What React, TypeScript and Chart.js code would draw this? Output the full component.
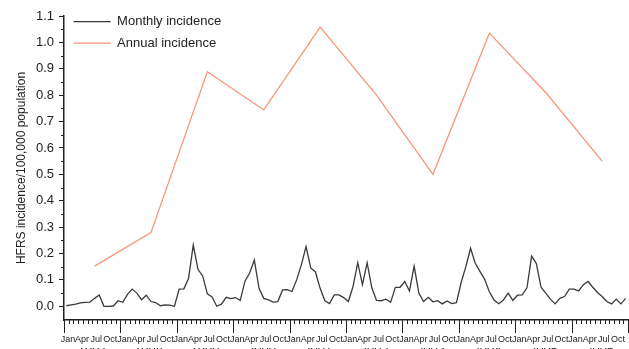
import React, { useEffect, useRef } from 'react';
import { Chart, registerables } from 'chart.js';

Chart.register(...registerables);

// ---- data ----
const YEARS = [1997, 1998, 1999, 2000, 2001, 2002, 2003, 2004, 2005, 2006];
const QUARTER_LABELS = ['Jan', 'Apr', 'Jul', 'Oct'];

const MONTHLY_1997 = [0.002, 0.005, 0.008, 0.013, 0.015, 0.016, 0.030, 0.043, 0.000, 0.000, 0.001, 0.021];
const MONTHLY_1998 = [0.015, 0.045, 0.065, 0.050, 0.025, 0.042, 0.018, 0.014, 0.002, 0.005, 0.004, 0.000];
const MONTHLY_1999 = [0.065, 0.066, 0.105, 0.232, 0.140, 0.115, 0.047, 0.035, 0.000, 0.008, 0.034, 0.029];
const MONTHLY_2000 = [0.033, 0.022, 0.095, 0.126, 0.175, 0.068, 0.030, 0.024, 0.016, 0.018, 0.062, 0.063];
const MONTHLY_2001 = [0.056, 0.100, 0.157, 0.226, 0.145, 0.130, 0.068, 0.021, 0.010, 0.043, 0.043, 0.033];
const MONTHLY_2002 = [0.018, 0.075, 0.165, 0.082, 0.165, 0.069, 0.022, 0.021, 0.027, 0.015, 0.072, 0.072];
const MONTHLY_2003 = [0.094, 0.058, 0.152, 0.050, 0.018, 0.034, 0.017, 0.021, 0.009, 0.020, 0.010, 0.014];
const MONTHLY_2004 = [0.090, 0.150, 0.220, 0.163, 0.132, 0.102, 0.055, 0.024, 0.010, 0.024, 0.050, 0.022];
const MONTHLY_2005 = [0.042, 0.043, 0.070, 0.190, 0.162, 0.072, 0.050, 0.027, 0.009, 0.030, 0.037, 0.065];
const MONTHLY_2006 = [0.065, 0.058, 0.082, 0.094, 0.072, 0.052, 0.037, 0.018, 0.009, 0.027, 0.009, 0.030];

const ANNUAL = [0.152, 0.279, 0.889, 0.744, 1.058, 0.800, 0.500, 1.035, 0.810, 0.550];

const Y_TICKS = [0, 0.1, 0.2, 0.3, 0.4, 0.5, 0.6, 0.7, 0.8, 0.9, 1.0, 1.1];
const Y_MIN = -0.052;
const Y_MAX = 1.1;

const MONTHLY_ALL = [
  ...MONTHLY_1997, ...MONTHLY_1998, ...MONTHLY_1999, ...MONTHLY_2000, ...MONTHLY_2001,
  ...MONTHLY_2002, ...MONTHLY_2003, ...MONTHLY_2004, ...MONTHLY_2005, ...MONTHLY_2006,
];
const N_MONTHS = YEARS.length * 12;

// ---- style ----
const AXIS = '#222222';
const MONTHLY_COLOR = '#3a3a3a';
const ANNUAL_COLOR = '#f7967a';
const FONT = "'Liberation Sans', Arial, Helvetica, sans-serif";

const extraTicks = {
  id: 'extraTicks',
  beforeDraw(chart: any) {
    const legend = chart.legend;
    if (legend) {
      legend.top = chart.chartArea.top - 9.5;
      legend.left = chart.chartArea.left + 1;
    }
  },
  afterDraw(chart: any) {
    const { ctx } = chart;
    const x = chart.scales.x;
    const y = chart.scales.y;
    ctx.save();
    ctx.strokeStyle = AXIS;
    ctx.lineWidth = 1;
    const base = x.top;
    ctx.beginPath();
    for (let m = 0; m <= N_MONTHS; m++) {
      const px = Math.round(x.getPixelForValue(m)) + 0.5;
      const len = m % 12 === 0 ? 13 : 4;
      ctx.moveTo(px, base);
      ctx.lineTo(px, base + len);
    }
    for (let i = 0; i < Y_TICKS.length - 1; i++) {
      const v = (Y_TICKS[i] + Y_TICKS[i + 1]) / 2;
      const py = Math.round(y.getPixelForValue(v)) + 0.5;
      ctx.moveTo(y.right - 3, py);
      ctx.lineTo(y.right, py);
    }
    ctx.stroke();
    ctx.restore();
  },
};

export default function App() {
  const ref = useRef<HTMLCanvasElement>(null);

  useEffect(() => {
    if (!ref.current) return;
    Chart.defaults.font.family = FONT;
    Chart.defaults.color = AXIS;

    const monthlyData = MONTHLY_ALL.map((v, i) => ({ x: i + 0.5, y: v }));
    const annualData = ANNUAL.map((v, i) => ({ x: (YEARS[i] - YEARS[0]) * 12 + 6.5, y: v }));

    const chart = new Chart(ref.current, {
      type: 'line',
      data: {
        datasets: [
          {
            label: 'Monthly incidence',
            data: monthlyData,
            borderColor: MONTHLY_COLOR,
            backgroundColor: MONTHLY_COLOR,
            borderWidth: 1.3,
            pointRadius: 0,
            pointBorderWidth: 1.3,
            tension: 0,
            xAxisID: 'x',
            yAxisID: 'y',
          },
          {
            label: 'Annual incidence',
            data: annualData,
            borderColor: ANNUAL_COLOR,
            backgroundColor: ANNUAL_COLOR,
            borderWidth: 1.3,
            pointRadius: 0,
            pointBorderWidth: 1.3,
            tension: 0,
            xAxisID: 'x',
            yAxisID: 'y',
          },
        ],
      },
      options: {
        responsive: false,
        animation: false,
        devicePixelRatio: 1,
        layout: { padding: { top: 16, right: 1, left: 0, bottom: 0 } },
        plugins: {
          tooltip: { enabled: false },
          legend: {
            position: 'chartArea' as any,
            align: 'start',
            labels: {
              usePointStyle: true,
              pointStyle: 'line',
              pointStyleWidth: 37,
              boxHeight: 13,
              padding: 8.6,
              color: AXIS,
              font: { size: 13, family: FONT },
            },
          },
        },
        scales: {
          x: {
            type: 'linear',
            position: 'bottom',
            min: 0,
            max: N_MONTHS,
            afterBuildTicks: (s: any) => {
              s.ticks = Array.from({ length: N_MONTHS + 1 }, (_, m) => ({ value: m }));
            },
            afterFit: (s: any) => {
              s.height = 28;
            },
            ticks: {
              autoSkip: false,
              maxRotation: 0,
              minRotation: 0,
              padding: 0,
              labelOffset: 4,
              color: AXIS,
              font: { size: 9, family: FONT },
              callback: (v: any) => {
                const m = Number(v);
                if (m >= N_MONTHS || m % 3 !== 0) return '';
                return QUARTER_LABELS[(m % 12) / 3];
              },
            },
            grid: { drawOnChartArea: false, tickLength: 14, tickColor: 'rgba(0,0,0,0)' },
            border: { color: AXIS, width: 1.5 },
          },
          xYear: {
            type: 'linear',
            position: 'bottom',
            min: 0,
            max: N_MONTHS,
            afterBuildTicks: (s: any) => {
              s.ticks = YEARS.map((_, i) => ({ value: i * 12 + 6 }));
            },
            afterFit: (s: any) => {
              s.height = 20;
            },
            ticks: {
              autoSkip: false,
              maxRotation: 0,
              minRotation: 0,
              padding: -5,
              color: AXIS,
              font: { size: 13, family: FONT },
              callback: (v: any) => {
                const idx = Math.round((Number(v) - 6) / 12);
                return YEARS[idx] !== undefined ? String(YEARS[idx]) : '';
              },
            },
            grid: { display: false, drawTicks: false },
            border: { display: false },
          },
          y: {
            type: 'linear',
            position: 'left',
            min: Y_MIN,
            max: Y_MAX,
            afterBuildTicks: (s: any) => {
              s.ticks = Y_TICKS.map((v) => ({ value: v }));
            },
            afterFit: (s: any) => {
              s.width = 64;
            },
            ticks: {
              padding: 5,
              color: AXIS,
              font: { size: 13, family: FONT },
              callback: (v: any) => Number(v).toFixed(1),
            },
            grid: { drawOnChartArea: false, tickLength: 5, tickColor: AXIS, tickWidth: 1 },
            border: { color: AXIS, width: 1.5 },
            title: {
              display: true,
              text: 'HFRS incidence/100,000 population',
              color: AXIS,
              font: { size: 12, family: FONT },
              padding: { top: 14, bottom: 0 },
            },
          },
        },
      },
      plugins: [extraTicks],
    } as any);

    return () => chart.destroy();
  }, []);

  return (
    <div
      style={{
        position: 'absolute',
        left: 0,
        top: 0,
        width: 629,
        height: 349,
        overflow: 'hidden',
        background: '#ffffff',
      }}
    >
      <canvas ref={ref} width={629} height={368} style={{ display: 'block', width: 629, height: 368 }} />
    </div>
  );
}
